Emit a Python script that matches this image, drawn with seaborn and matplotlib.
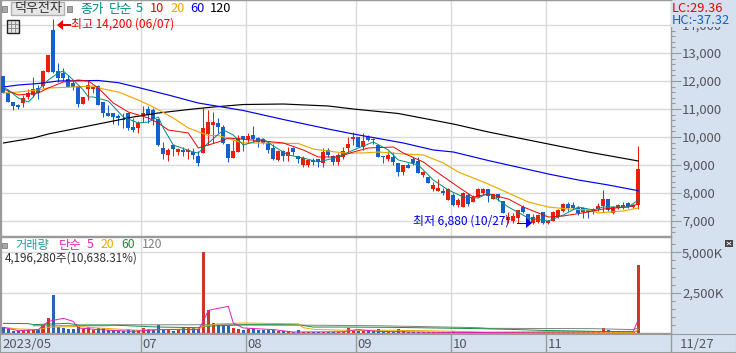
#!/usr/bin/env python3
# -*- coding: utf-8 -*-
"""덕우전자 일봉 + 거래량 차트"""

import matplotlib
matplotlib.use('Agg')
import matplotlib.pyplot as plt
from matplotlib.lines import Line2D
from matplotlib.patches import Rectangle, Polygon
from matplotlib.ticker import FixedLocator, FuncFormatter
import pandas as pd
import seaborn as sns

sns.set_style('white')
plt.rcParams['font.family'] = ['Noto Sans CJK KR', 'DejaVu Sans']
plt.rcParams['axes.unicode_minus'] = False

W, H = 736, 353

opens = [12180, 11570, 11250, 11140, 11200, 11430, 11500, 11750, 11820, 12320, 13820, 12360, 12290, 12070, 11930, 11820,
         11180, 11710, 11720, 11820, 11250, 10860, 10860, 10750, 10660, 10860, 10360, 10320, 10750, 11000, 10960, 10640,
         9600, 9360, 9710, 9460, 9540, 9460, 9460, 9320, 9430, 10110, 10430, 10500, 10360, 9750, 9250, 9460,
         10040, 9930, 10070, 9960, 9930, 9790, 9610, 9180, 9500, 9320, 9610, 9320, 9000, 9000, 9180, 9210,
         9070, 9540, 9320, 9110, 9290, 9610, 9930, 10000, 9640, 10000, 9930, 9710, 9320, 9210, 9290, 9070,
         8750, 9000, 9210, 9140, 8640, 8570, 8140, 8070, 8070, 7750, 7930, 7570, 7500, 7930, 7680, 7860,
         8000, 8140, 7790, 7960, 7710, 7040, 7000, 7110, 7500, 7250, 6930, 6960, 7320, 6930, 7000, 7140,
         7360, 7610, 7570, 7460, 7460, 7390, 7360, 7430, 7540, 7790, 7290, 7460, 7500, 7640, 7500, 7570]
highs = [12180, 11680, 11250, 11180, 11500, 11720, 12140, 11860, 12410, 12930, 14200, 12640, 12470, 12220, 12000, 11860,
         11430, 12040, 11800, 11860, 11250, 11140, 10860, 10820, 10860, 10890, 10680, 10570, 11100, 11100, 11030, 10640,
         9820, 9610, 9750, 9610, 9640, 9610, 9610, 9500, 11030, 10960, 10890, 10680, 10430, 9750, 9890, 10070,
         10040, 10140, 10390, 10000, 9960, 9860, 9750, 9540, 9540, 9640, 9640, 9320, 9320, 9180, 9250, 9210,
         9610, 9610, 9360, 9430, 9640, 10000, 10180, 10000, 10140, 10070, 9960, 9750, 9320, 9500, 9470, 9070,
         9000, 9070, 9290, 9290, 8790, 8570, 8390, 8500, 8180, 8180, 8000, 7820, 8030, 8000, 7930, 8180,
         8180, 8140, 7960, 7960, 7710, 7320, 7290, 7390, 7570, 7250, 7250, 7250, 7320, 7040, 7360, 7430,
         7640, 7680, 7680, 7540, 7500, 7400, 7460, 7640, 8100, 7790, 7540, 7600, 7680, 7680, 7600, 9680]
lows = [11570, 11250, 10960, 11000, 11070, 11360, 11430, 11360, 11750, 12320, 12300, 11960, 12000, 11790, 11680, 11070,
        11180, 11320, 11570, 11140, 10710, 10750, 10460, 10430, 10320, 10250, 10180, 10140, 10540, 10500, 10430, 9680,
        9210, 9140, 9320, 9360, 9320, 9210, 9210, 8960, 9430, 9710, 9780, 10140, 9750, 9110, 9250, 9460,
        9500, 9790, 9820, 9640, 9750, 9430, 9180, 9140, 9140, 9140, 9360, 9070, 8930, 8930, 9000, 8930,
        8930, 9290, 9000, 9000, 9210, 9460, 9710, 9640, 9540, 9860, 9750, 9290, 9070, 9140, 9000, 8610,
        8640, 8890, 9000, 8710, 8570, 8360, 8070, 8070, 7930, 7750, 7540, 7500, 7500, 7540, 7680, 7860,
        7930, 7680, 7790, 7710, 7290, 6930, 6930, 6930, 7290, 6900, 6880, 6930, 6880, 6900, 7000, 7110,
        7320, 7360, 7430, 7210, 7110, 7110, 7250, 7360, 7320, 7360, 7250, 7430, 7430, 7460, 7460, 7430]
closes = [11570, 11250, 11110, 11070, 11390, 11570, 11710, 11570, 12360, 12930, 12320, 12110, 12110, 11790, 11790, 11180,
          11430, 11860, 11790, 11140, 10860, 10750, 10710, 10680, 10620, 10320, 10250, 10500, 10860, 10790, 10640, 9710,
          9390, 9540, 9570, 9570, 9460, 9540, 9360, 9070, 10320, 10540, 10540, 10360, 9780, 9250, 9500, 9960,
          9930, 10040, 9930, 9820, 9790, 9540, 9210, 9500, 9320, 9460, 9460, 9210, 9250, 9180, 9110, 9110,
          9460, 9360, 9110, 9360, 9500, 9750, 10000, 9640, 9860, 9890, 9890, 9290, 9290, 9360, 9110, 8750,
          9000, 8890, 9070, 8710, 8750, 8360, 8290, 8180, 8000, 8140, 7570, 7750, 8000, 7610, 7860, 8140,
          8140, 7890, 7960, 7820, 7290, 7140, 7180, 7390, 7320, 6950, 7140, 7210, 6930, 7000, 7320, 7390,
          7610, 7460, 7460, 7290, 7320, 7320, 7430, 7540, 7790, 7390, 7500, 7570, 7570, 7500, 7570, 8860]

ma5_idx = [0, 1, 3, 5, 6, 7, 9, 11, 12, 14, 16, 17, 18, 21, 24, 27, 29, 31, 32, 34, 38, 39, 41, 44, 46, 48, 52, 54,
           57, 60, 63, 67, 70, 74, 77, 79, 83, 86, 89, 92, 95, 97, 101, 105, 109, 112, 115, 118, 120, 125, 127]
ma5 = [11785, 11679, 11393, 11250, 11429, 11679, 12036, 12286, 12357, 12036, 11679, 11429, 11429, 11286, 10714, 10500,
       10536, 10714, 10321, 9714, 9464, 9429, 9786, 10250, 10071, 9714, 9929, 9679, 9357, 9250, 9107, 9286, 9536, 9821,
       9536, 9179, 9000, 8464, 8107, 7857, 7821, 8000, 7500, 7107, 7000, 7214, 7500, 7393, 7500, 7500, 7750]
ma10_idx = [0, 3, 7, 9, 12, 15, 17, 19, 22, 25, 29, 31, 33, 37, 39, 43, 45, 52, 56, 60, 63, 67, 70, 73, 78, 80, 84,
            87, 91, 94, 97, 101, 104, 109, 112, 117, 120, 125, 127]
ma10 = [11714, 11500, 11571, 11750, 11964, 12036, 12000, 11750, 11214, 10893, 10679, 10500, 10250, 10143, 9607, 9821,
        9964, 9857, 9786, 9536, 9286, 9286, 9464, 9607, 9643, 9429, 9107, 8714, 8214, 7857, 7964, 7786, 7500, 7143,
        7179, 7321, 7429, 7500, 7607]
ma20_idx = [0, 3, 7, 9, 14, 18, 20, 23, 27, 30, 34, 37, 41, 43, 46, 48, 52, 59, 62, 65, 68, 72, 75, 80, 84, 88, 91,
            97, 101, 105, 109, 113, 117, 119, 124, 127]
ma20 = [11571, 11607, 11678, 11750, 11785, 11821, 11714, 11607, 11321, 11071, 10679, 10321, 10054, 10054, 9893, 9786,
        9786, 9768, 9571, 9500, 9429, 9429, 9464, 9393, 9357, 9071, 8750, 8321, 8000, 7679, 7500, 7429, 7393, 7286,
        7357, 7464]
ma60_idx = [0, 3, 7, 11, 19, 23, 27, 33, 39, 48, 56, 65, 70, 80, 86, 90, 97, 109, 115, 121, 127]
ma60 = [11785, 11857, 11910, 12000, 12018, 11940, 11767, 11500, 11214, 10946, 10625, 10285, 10107, 9786, 9536, 9464,
        9160, 8679, 8464, 8286, 8082]
ma120_idx = [0, 6, 9, 15, 20, 26, 31, 38, 42, 48, 56, 65, 70, 79, 90, 97, 108, 117, 127]
ma120 = [9785, 9964, 10107, 10321, 10500, 10714, 10857, 11000, 11071, 11160, 11178, 11107, 11000, 10839, 10464, 10179,
         9786, 9464, 9143]

volume = [372, 270, 155, 140, 165, 165, 170, 165, 520, 930, 2356, 372, 310, 250, 250, 372,
          250, 372, 200, 310, 310, 200, 200, 150, 140, 250, 170, 170, 310, 250, 200, 500,
          270, 250, 120, 200, 350, 350, 310, 250, 5022, 1450, 620, 520, 520, 460, 310, 250,
          200, 250, 250, 170, 170, 170, 170, 100, 130, 100, 80, 170, 80, 70, 70, 70,
          70, 70, 70, 70, 80, 290, 130, 110, 110, 130, 130, 220, 90, 70, 70, 240,
          110, 70, 70, 70, 70, 60, 60, 60, 60, 60, 150, 70, 60, 60, 60, 60,
          60, 60, 50, 50, 50, 50, 50, 50, 50, 50, 50, 50, 40, 40, 40, 40,
          40, 40, 40, 40, 40, 40, 40, 50, 280, 160, 70, 80, 80, 70, 90, 4196]

vma5_idx = [0, 3, 7, 9, 12, 14, 15, 19, 26, 31, 39, 40, 41, 43, 45, 46, 48, 54, 58, 68, 71, 75, 87, 97, 126, 127]
vma5 = [350, 145, 210, 720, 910, 720, 310, 210, 100, 210, 210, 720, 1400, 1530, 1650, 620, 310, 210, 60, 80, 210, 100,
        40, 30, 100, 830]
vma20_idx = [0, 3, 7, 9, 15, 19, 27, 31, 39, 40, 43, 48, 59, 60, 62, 68, 78, 88, 97, 126, 127]
vma20 = [350, 250, 210, 350, 410, 310, 170, 210, 250, 410, 570, 620, 570, 330, 230, 170, 170, 120, 60, 40, 210]
vma60_idx = [0, 5, 6, 13, 15, 21, 31, 39, 40, 48, 59, 62, 68, 78, 95, 102, 108, 126, 127]
vma60 = [600, 580, 520, 600, 500, 500, 370, 330, 410, 510, 510, 370, 370, 350, 270, 220, 160, 60, 150]
vma120_idx = [6, 21, 22, 48, 68, 75, 82, 95, 97, 118, 126, 127]
vma120 = [450, 450, 510, 510, 470, 450, 410, 330, 290, 270, 210, 310]

month_pos = [27.6, 48.6, 70.6, 89.6, 108.6]
month_labels = ['07', '08', '09', '10', '11']
price_ticks = [7000, 8000, 9000, 10000, 11000, 12000, 13000, 14000]
volume_ticks = [2500, 5000]

C_UP = '#e81f0d'
C_DOWN = '#1460cc'
C_BAND = '#d6e1ef'
C_FRAME = '#9a9a9a'
C_GRID = '#dadada'
C_TICK = '#55555f'


def box(x0, y0, x1, y1):
    """픽셀 좌표 -> figure 좌표 사각형"""
    return [x0 / W, 1 - y1 / H, (x1 - x0) / W, (y1 - y0) / H]


def put(fig, x, y, s, color, size=9, **kw):
    """픽셀 좌표에 글자 쓰기"""
    return fig.text(x / W, 1 - y / H, s, color=color, fontsize=size, va='center', ha=kw.pop('ha', 'left'), **kw)


def seg(fig, x0, y0, x1, y1, color, lw=0.72):
    """픽셀 좌표 선분"""
    fig.add_artist(Line2D([x0 / W, x1 / W], [1 - y0 / H, 1 - y1 / H], transform=fig.transFigure,
                          color=color, lw=lw, zorder=7))


def style_axis(ax, ylim, major, minor, fmt):
    ax.set_xlim(-0.46, 133.54)
    ax.set_ylim(*ylim)
    ax.set_xticks([])
    ax.yaxis.tick_right()
    ax.yaxis.set_major_locator(FixedLocator(major))
    ax.yaxis.set_minor_locator(FixedLocator(minor))
    ax.yaxis.set_major_formatter(FuncFormatter(fmt))
    ax.tick_params(axis='y', which='major', right=True, length=7, width=0.8, color=C_FRAME,
                   labelcolor=C_TICK, labelsize=9.5, pad=1)
    ax.tick_params(axis='y', which='minor', right=True, length=3, width=0.8, color=C_FRAME)
    for y in major:
        ax.axhline(y, color=C_GRID, lw=1.0, zorder=0)
    for x in month_pos:
        ax.axvline(x, color=C_GRID, lw=1.0, zorder=0)
    for s in ax.spines.values():
        s.set_color(C_FRAME)
        s.set_linewidth(1)
    ax.spines['left'].set_linewidth(1.6)


def ma_line(ax, idx, values, color, lw=0.7):
    sns.lineplot(x=idx, y=values, color=color, lw=lw, ax=ax, legend=False, zorder=4, errorbar=None,
                 estimator=None)


def plot_price(ax, df):
    style_axis(ax, (6464, 14893), price_ticks, list(range(6600, 14800, 200)),
               lambda v, _: f'{int(v):,}')
    ax.vlines(df['idx'], df['low'], df['high'], colors=df['color'], lw=0.75, zorder=2)
    ax.bar(df['idx'], (df['close'] - df['open']).abs(), bottom=df[['open', 'close']].min(axis=1),
           width=0.8, color=df['color'], linewidth=0, zorder=3)
    ma_line(ax, ma120_idx, ma120, '#000000', 0.85)
    ma_line(ax, ma60_idx, ma60, '#0000f0', 0.85)
    ma_line(ax, ma20_idx, ma20, '#f0a800', 0.85)
    ma_line(ax, ma10_idx, ma10, '#f00000')
    ma_line(ax, ma5_idx, ma5, '#008a80')
    ax.set_xlabel('')
    ax.set_ylabel('')


def plot_volume(ax, df):
    sns.barplot(data=df, x='idx', y='volume', hue='color', palette={C_UP: C_UP, C_DOWN: C_DOWN},
                native_scale=True, dodge=False, legend=False, width=0.72, linewidth=0, ax=ax, zorder=3)
    style_axis(ax, (0, 5952), volume_ticks, list(range(500, 6000, 500)),
               lambda v, _: f'{int(v):,}K')
    ma_line(ax, vma120_idx, vma120, '#808080')
    ma_line(ax, vma60_idx, vma60, '#109040')
    ma_line(ax, vma20_idx, vma20, '#f0a800')
    ma_line(ax, vma5_idx, vma5, '#e020b0')
    ax.set_xlabel('')
    ax.set_ylabel('')


def plot_band(ax):
    ax.set_facecolor(C_BAND)
    ax.set_xlim(-0.46 - 1 / 5, 133.54 + 65 / 5)
    ax.set_ylim(0, 1)
    ax.set_xticks([])
    ax.set_yticks([])
    for x in [133.54] + month_pos:
        ax.axvline(x, color=C_FRAME, lw=1, zorder=1)
    for s in ax.spines.values():
        s.set_color(C_FRAME)
    ax.text(-0.1, 0.44, '2023/05', color=C_TICK, fontsize=9.5, va='center', clip_on=True)
    for x, s in zip(month_pos, month_labels):
        ax.text(x + 0.2, 0.44, s, color=C_TICK, fontsize=9.5, va='center')
    ax.text(135.2, 0.44, '11/27', color=C_TICK, fontsize=9.5, va='center')


def add_labels(fig):
    # 상단 종목명, 이평 범례
    fig.add_artist(Rectangle((11 / W, 1 - 15 / H), 53 / W, 13 / H, transform=fig.transFigure,
                             facecolor='#e6e6e6', edgecolor='#b0b0b0', lw=1, zorder=6))
    for x, y in [(4, 9), (69, 9), (4, 245)]:
        fig.add_artist(Rectangle(((x - 2) / W, 1 - (y + 2.5) / H), 5 / W, 5 / H, transform=fig.transFigure,
                                 facecolor='#a8a8a8', edgecolor='#808080', lw=0.6, zorder=6))
    # 표 아이콘
    fig.add_artist(Rectangle((7 / W, 1 - 33 / H), 12 / W, 13 / H, transform=fig.transFigure,
                             facecolor='#e4e4e4', edgecolor='#222222', lw=1, zorder=6))
    for x in (11, 15):
        seg(fig, x, 21, x, 32, '#909090')
    for y in (24, 28):
        seg(fig, 8, y, 18, y, '#909090')

    put(fig, 15, 8.5, '덕우전자', '#303030', 9.4, zorder=7)
    put(fig, 80, 9, '종가', '#008a80', 9.2)
    put(fig, 109, 9, '단순', '#008a80', 9.2)
    put(fig, 136, 9, '5', '#008a80', 9.2)
    put(fig, 150, 9, '10', '#f00000', 9.2)
    put(fig, 170, 9, '20', '#f0a800', 9.2)
    put(fig, 190, 9, '60', '#0000f0', 9.2)
    put(fig, 210, 9, '120', '#000000', 9.2)

    # 최고 / 최저 표시
    fig.add_artist(Polygon([(57 / W, 1 - 25 / H), (63 / W, 1 - 20 / H), (63 / W, 1 - 30 / H)],
                           transform=fig.transFigure, facecolor='#f00000', edgecolor='none', zorder=6))
    fig.add_artist(Rectangle((63 / W, 1 - 25.5 / H), 8 / W, 1 / H, transform=fig.transFigure,
                             facecolor='#f00000', edgecolor='none', zorder=6))
    put(fig, 71, 24, '최고 14,200 (06/07)', '#f00000', 8.6, zorder=7)
    fig.add_artist(Polygon([(532 / W, 1 - 223 / H), (526 / W, 1 - 218 / H), (526 / W, 1 - 228 / H)],
                           transform=fig.transFigure, facecolor='#0000f0', edgecolor='none', zorder=6))
    fig.add_artist(Rectangle((517 / W, 1 - 223.5 / H), 9 / W, 1 / H, transform=fig.transFigure,
                             facecolor='#0000f0', edgecolor='none', zorder=6))
    put(fig, 413, 221, '최저 6,880 (10/27)', '#0000f0', 8.6, zorder=7)

    # 오른쪽 위 수치 (14,000 눈금을 일부 덮음)
    cover = dict(facecolor=C_BAND, edgecolor='none', pad=0.5)
    put(fig, 672, 8, 'LC:29.36', '#f00000', 9.3, zorder=7, bbox=cover)
    put(fig, 672, 20, 'HC:-37.32', '#1460cc', 9.3, zorder=7, bbox=cover)

    # 거래량 범례
    put(fig, 15, 245, '거래량', '#2a9a98', 8.8)
    put(fig, 59, 245, '단순', '#e020b0', 8.8)
    put(fig, 87, 245, '5', '#e020b0', 8.8)
    put(fig, 101, 245, '20', '#f0a800', 8.8)
    put(fig, 121, 245, '60', '#109040', 8.8)
    put(fig, 142, 245, '120', '#808080', 8.8)
    put(fig, 5, 258, '4,196,280주(10,638.31%)', '#303030', 8.4)

    # 오른쪽 확대 버튼
    fig.add_artist(Rectangle((725 / W, 1 - 247 / H), 8 / W, 7 / H, transform=fig.transFigure,
                             facecolor='#444444', edgecolor='none', zorder=6))
    seg(fig, 727, 242, 731, 245, '#ffffff', 0.6)
    seg(fig, 727, 245, 731, 242, '#ffffff', 0.6)


def main():
    df = pd.DataFrame({'idx': range(len(opens)), 'open': opens, 'high': highs, 'low': lows,
                       'close': closes, 'volume': volume})
    df['color'] = [C_UP if c >= o else C_DOWN for o, c in zip(df['open'], df['close'])]

    fig = plt.figure(figsize=(W / 100, H / 100), dpi=100, facecolor=C_BAND)
    ax_price = fig.add_axes(box(1, 0, 671, 236))
    ax_vol = fig.add_axes(box(1, 237, 671, 333))
    ax_band = fig.add_axes(box(0, 334, 736, 352))

    plot_price(ax_price, df)
    plot_volume(ax_vol, df)
    plot_band(ax_band)
    add_labels(fig)

    fig.savefig('out.png', dpi=100, facecolor=fig.get_facecolor())
    plt.close(fig)


if __name__ == '__main__':
    main()
